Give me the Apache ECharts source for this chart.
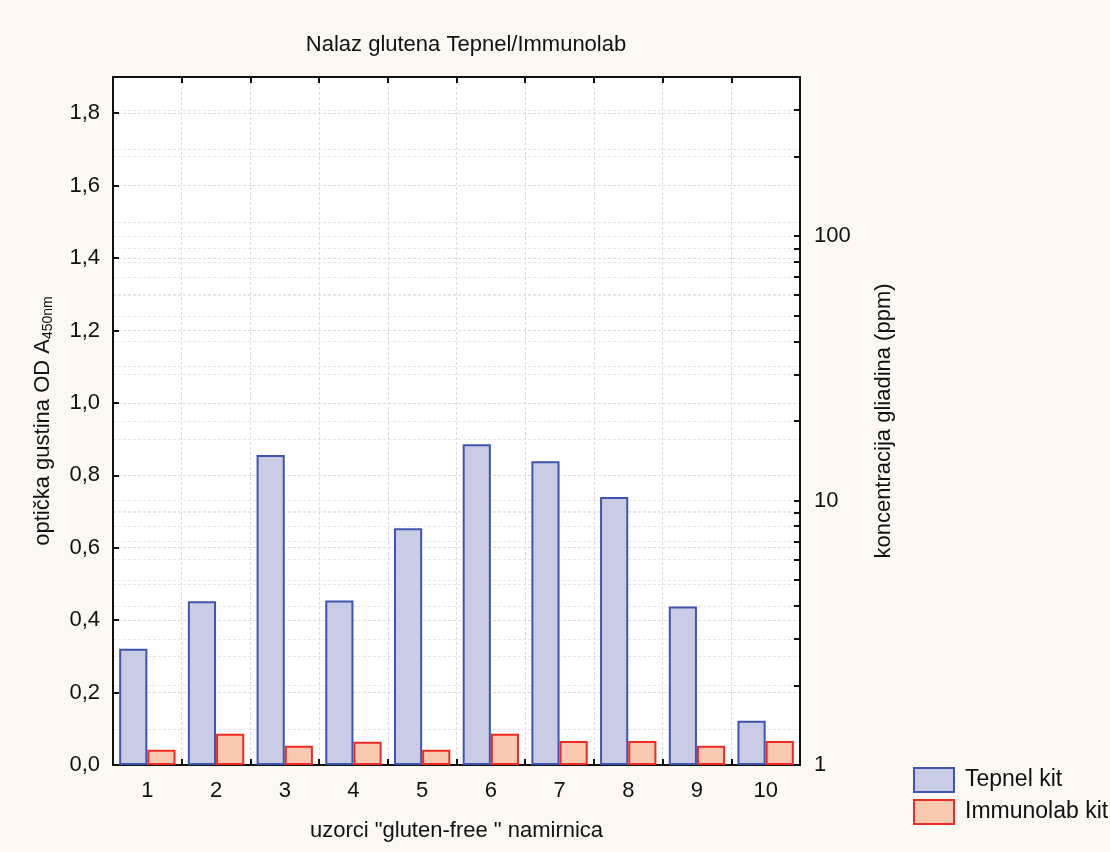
<!DOCTYPE html>
<html>
<head>
<meta charset="utf-8">
<script src="https://cdn.jsdelivr.net/npm/echarts@6/dist/echarts.min.js"></script>
<style>
html,body{margin:0;padding:0;background:#FDF8F1;}
#chart{width:1110px;height:852px;}
</style>
</head>
<body>
<div id="chart"></div>
<script>
const categories = ['1','2','3','4','5','6','7','8','9','10'];
const tepnel = [0.321, 0.452, 0.856, 0.454, 0.654, 0.886, 0.839, 0.740, 0.438, 0.122];
const immunolab = [0.042, 0.086, 0.053, 0.064, 0.042, 0.086, 0.066, 0.066, 0.053, 0.066];
const rightTickValues = [1,2,3,4,5,6,7,8,9,10,20,30,40,50,60,70,80,90,100,200,300,400];
const rightLabelValues = [1,10,100];

const FONT = '"Liberation Sans", Arial, sans-serif';
const chart = echarts.init(document.getElementById('chart'));
const gridLine = {show:true, lineStyle:{color:'#DCDCDC', type:[3,2], width:1}};
chart.setOption({
  backgroundColor:'#FDF8F1',
  animation:false,
  textStyle:{fontFamily:FONT},
  title:{text:'Nalaz glutena Tepnel/Immunolab', left:461, top:29, textAlign:'center',
    textStyle:{fontFamily:FONT, fontSize:22, fontWeight:'normal', color:'#111'}},
  legend:{orient:'vertical', left:908, top:762, itemWidth:40, itemHeight:24, itemGap:6, icon:'rect',
    textStyle:{fontFamily:FONT, fontSize:23, color:'#111', padding:[0,0,0,6]},
    data:['Tepnel kit','Immunolab kit']},
  grid:{left:113, right:310, top:77, bottom:87, show:true, backgroundColor:'#FFFFFF', borderWidth:0},
  xAxis:[{
    type:'category', data:categories, position:'bottom',
    name:'uzorci "gluten-free " namirnica', nameLocation:'middle', nameGap:55,
    nameTextStyle:{fontFamily:FONT, fontSize:22, color:'#111'},
    axisLine:{show:true, lineStyle:{color:'#111', width:2}},
    axisTick:{show:true, inside:true, length:6, lineStyle:{color:'#111', width:2}},
    axisLabel:{fontFamily:FONT, fontSize:22, color:'#111', margin:15},
    splitLine:gridLine
  },{
    type:'category', data:categories, position:'top',
    axisLine:{show:true, lineStyle:{color:'#111', width:2}},
    axisTick:{show:true, inside:true, length:6, lineStyle:{color:'#111', width:2}},
    axisLabel:{show:false}, splitLine:{show:false}
  }],
  yAxis:[{
    type:'value', min:0, max:1.9, interval:0.2, position:'left',
    name:'{a|optička gustina OD A}{s|450nm}', nameLocation:'middle', nameGap:58, nameRotate:90,
    nameTextStyle:{rich:{
      a:{fontFamily:FONT, fontSize:22, color:'#111'},
      s:{fontFamily:FONT, fontSize:14, color:'#111', padding:[10,0,0,0]}
    }},
    axisLine:{show:true, lineStyle:{color:'#111', width:2}},
    axisTick:{show:true, inside:true, length:6, lineStyle:{color:'#111', width:2}},
    axisLabel:{fontFamily:FONT, fontSize:22, color:'#111', margin:13, showMaxLabel:false,
      formatter:v=>v.toFixed(1).replace('.',',')},
    splitLine:gridLine,
    minorTick:{show:false, splitNumber:2},
    minorSplitLine:{show:true, lineStyle:{color:'#E6E6E6', type:[3,2], width:1}}
  },{
    type:'log', logBase:10, min:1, max:400, position:'right',
    name:'koncentracija gliadina (ppm)', nameLocation:'middle', nameGap:73, nameRotate:90,
    nameTextStyle:{fontFamily:FONT, fontSize:22, color:'#111'},
    axisLine:{show:true, lineStyle:{color:'#111', width:2}},
    axisTick:{show:true, inside:true, length:6, customValues:rightTickValues, lineStyle:{color:'#111', width:2}},
    axisLabel:{fontFamily:FONT, fontSize:22, color:'#111', margin:14, customValues:rightLabelValues,
      formatter:v=>String(Math.round(v))},
    splitLine:{show:true, lineStyle:{color:'#E8E8E8', type:[3,2], width:1}}
  }],
  series:[{
    name:'Tepnel kit', type:'bar', xAxisIndex:0, yAxisIndex:0, data:tepnel,
    barGap:'0%', barCategoryGap:'18%',
    itemStyle:{color:'#C9CCE4', borderColor:'#3C56B0', borderWidth:2}
  },{
    name:'Immunolab kit', type:'bar', xAxisIndex:0, yAxisIndex:0, data:immunolab,
    barGap:'0%', barCategoryGap:'18%',
    itemStyle:{color:'#F9C9B2', borderColor:'#EE2A24', borderWidth:2}
  }]
});
</script>
</body>
</html>
